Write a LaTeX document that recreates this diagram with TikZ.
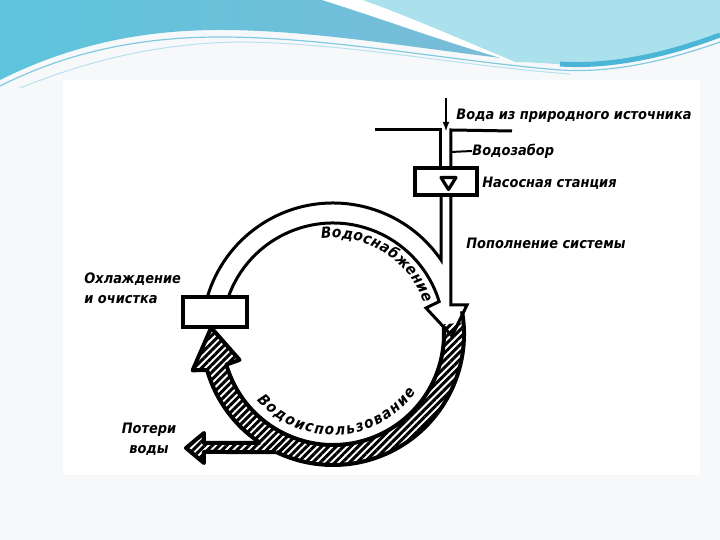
\documentclass[tikz,border=0pt]{standalone}
\usepackage{fontspec}
\usepackage{tikz}
\usetikzlibrary{calc,patterns.meta,decorations.text,arrows.meta}

\newfontfamily\cyrfont{DejaVu Sans Condensed}
\newcommand\lblfont{\cyrfont\bfseries\itshape\fontsize{7.2}{10}\selectfont}
\newcommand\arcfont{\cyrfont\bfseries\itshape\fontsize{7.6}{10}\selectfont}

\definecolor{hdrleft}{HTML}{5DC4DB}
\definecolor{hdrmid}{HTML}{86B9D8}
\definecolor{hdrright}{HTML}{ABE1ED}
\definecolor{hdrline}{HTML}{4BB5D6}
\definecolor{pagebg}{HTML}{F7F8F9}

\begin{document}
\begin{tikzpicture}[x=0.5pt,y=0.5pt,
  pipe/.style={line width=1.5pt},
  rim/.style={line width=2pt,line join=round},
  hatch/.style={pattern={Lines[angle=45,distance=2.6pt,line width=1.5pt]}},
  lbl/.style={font=\lblfont,inner sep=0pt},
  unit/.style={draw,line width=1.6pt,fill=white,inner sep=0pt}]

\useasboundingbox (0,0) rectangle (720,540);
\fill[pagebg] (0,0) rectangle (720,540);

% header wave
\shade[left color=hdrleft,middle color=hdrmid,right color=hdrmid] (0,540) -- (720,540) -- (720,505) .. controls (680,490) and (620,472) .. (560,476) .. controls (450,485) and (330,510) .. (220,510) .. controls (130,510) and (60,490) .. (0,460) -- cycle;
\fill[hdrright] (330,540) -- (720,540) -- (720,505) .. controls (680,490) and (620,472) .. (560,476) .. controls (540,477) and (525,478) .. (515,478) .. controls (450,500) and (380,525) .. (330,540) -- cycle;
\fill[white] (322,540) .. controls (380,522) and (450,496) .. (515,478) .. controls (455,503) and (405,525) .. (362,540) -- cycle;
\draw[hdrline,line width=2.5pt] (560,476) .. controls (620,472) and (680,490) .. (720,505);
\draw[hdrline!70,line width=0.6pt] (0,454) .. controls (60,484) and (130,503) .. (220,503) .. controls (330,503) and (450,479) .. (560,470) .. controls (620,466) and (680,484) .. (720,498);
\draw[hdrline!40,line width=0.5pt] (20,452) .. controls (90,480) and (160,497) .. (240,498) .. controls (350,497) and (460,474) .. (570,466);

% scanned sheet
\fill[white] (63,65) rectangle (700,460);

\coordinate (C) at (333,206);

% intake and pump station
\node[unit,minimum width=31pt,minimum height=13.5pt] (pump) at (446,358.5) {};
\coordinate (src) at (446,442);
\coordinate (intake) at (446,408);
\draw[line width=1pt,-{Latex[length=5pt,width=3.4pt]}] (src) -- (intake);
\draw[pipe] (375,410) -- (441,410) -- ([xshift=-2.5pt]pump.north);
\draw[pipe] (512,409) -- (451,410) -- ([xshift=2.5pt]pump.north);
\draw[line width=1.6pt,line join=round] ($(pump)+(-5,4)$) -- ($(pump)+(10,4)$) -- ($(pump)+(2.5,-8)$) -- cycle;

\node[lbl,anchor=west] (srclbl) at (456,424) {Вода из природного источника};
\node[lbl,anchor=west] (intakelbl) at (472,389) {Водозабор};
\draw[line width=1pt] (451,388) -- (intakelbl.west);
\node[lbl,anchor=west] (pumplbl) at (482,357) {Насосная станция};
\node[lbl,anchor=west] (refill) at (466,297) {Пополнение системы};

% water use (hatched)
\fill[hatch] ($(C)+(5:131)$) arc[start angle=5,end angle=-164,radius=131] -- ($(C)+(-165.5:145)$) -- ($(C)+(-183:122)$) -- ($(C)+(-164.5:97)$) -- ($(C)+(-164:111)$) arc[start angle=-164,end angle=5,radius=111] -- cycle;
\fill[hatch] (290,88) -- (204,88) -- (204,77) -- (186,92) -- (204,107) -- (204,97) -- (290,97) -- cycle;
\draw[rim] ($(C)+(10:131)$) arc[start angle=10,end angle=-115.7,radius=131];
\draw[rim] ($(C)+(-123.7:131)$) arc[start angle=-123.7,end angle=-164,radius=131] -- ($(C)+(-165.5:145)$) -- ($(C)+(-183:122)$) -- ($(C)+(-164.5:97)$) -- ($(C)+(-164:111)$) arc[start angle=-164,end angle=4,radius=111];
\draw[rim] ($(C)+(-115.7:131)$) -- (204,88) -- (204,77) -- (186,92) -- (204,107) -- (204,97) -- ($(C)+(-123.7:131)$);

% water supply (white)
\draw[pipe] ([xshift=-2.5pt]pump.south) -- ($(C)+(34.4:131)$) arc[start angle=34.4,end angle=163.6,radius=131];
\draw[pipe] ($(C)+(160.5:111)$) arc[start angle=160.5,end angle=17,radius=111] -- (426,232) -- (452,204) -- (467,235) -- (451,235) -- ([xshift=2.5pt]pump.south);

\path[decorate,decoration={text along path,text={|\arcfont|Водоснабжение},text align={fit to path}}] ($(C)+(97:96)$) arc[start angle=97,end angle=19,radius=96];
\path[decorate,decoration={text along path,text={|\arcfont|Водоиспользование},text align={fit to path}}] ($(C)+(-139:101)$) arc[start angle=-139,end angle=-35,radius=101];

% cooling unit
\node[unit,minimum width=32pt,minimum height=15pt] (cool) at (215,228) {};
\node[lbl,anchor=west,align=left] (coollbl) at (84,252) {Охлаждение\\и очистка};
\node[lbl,align=center] (losslbl) at (149,101) {Потери\\воды};

\end{tikzpicture}
\end{document}
